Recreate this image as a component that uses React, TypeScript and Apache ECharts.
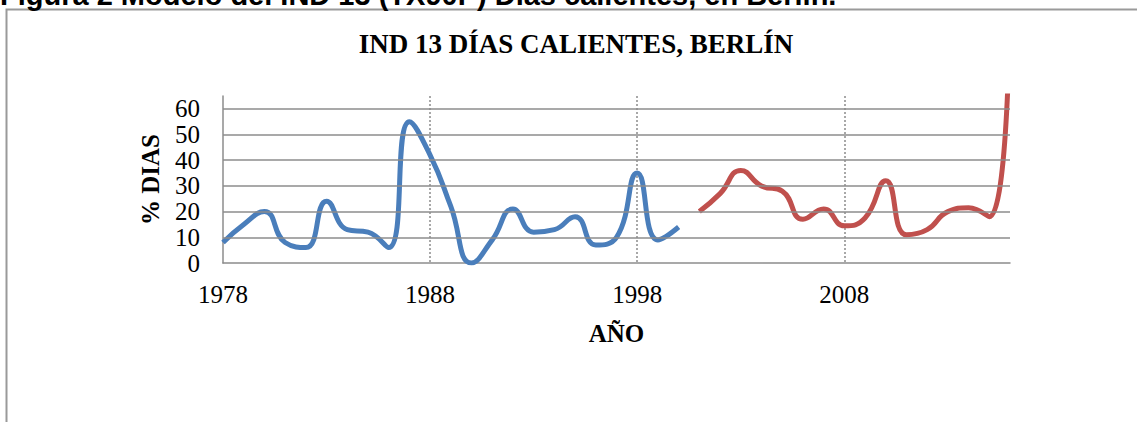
import React, { useEffect, useRef } from "react";
import * as echarts from "echarts";

const years = [
  "1978", "1979", "1980", "1981", "1982", "1983", "1984", "1985", "1986", "1987",
  "1988", "1989", "1990", "1991", "1992", "1993", "1994", "1995", "1996", "1997",
  "1998", "1999", "2000", "2001", "2002", "2003", "2004", "2005", "2006", "2007",
  "2008", "2009", "2010", "2011", "2012", "2013", "2014", "2015", "2016",
];
// observed 1978–2000
const observed = [8, 15, 20, 8, 6, 24, 13, 12, 6, 55, 42, 22, 0, 9, 21, 12, 13, 18, 7, 10, 35, 9, 14];
// model 2001–2016
const model = [20, 27, 36, 30, 28, 17, 21, 14.5, 17.5, 32, 11, 13, 20, 21.5, 18, 100];
const yTicks = [10, 20, 30, 40, 50, 60];

const TITLE = "IND 13 DÍAS CALIENTES, BERLÍN";
const CAPTION = "Figura 2 Modelo del IND 13 (TX90P) Días calientes, en Berlín.";
const SERIF = "'Liberation Serif', 'Times New Roman', serif";

export default function App() {
  const ref = useRef<HTMLDivElement>(null);
  useEffect(() => {
    if (!ref.current) return;
    const chart = echarts.init(ref.current, null, { renderer: "svg" });
    const nBlue = observed.length;
    const blueData = [...observed, ...Array(years.length - nBlue).fill(null)];
    const redData = [...Array(years.length - model.length).fill(null), ...model];
    chart.setOption({
      animation: false,
      backgroundColor: "#ffffff",
      grid: { left: 223, right: 127, top: 96, bottom: 159, containLabel: false, outerBoundsMode: "none" },
      graphic: [
        {
          type: "rect",
          shape: { x: 6.5, y: 9.5, width: 1200, height: 500 },
          style: { fill: "none", stroke: "#9a9a9a", lineWidth: 2 },
          silent: true,
        },
        {
          type: "text",
          x: 0,
          y: 9,
          style: {
            text: CAPTION,
            font: "bold 29px 'Liberation Sans', Arial, sans-serif",
            fill: "#000",
            textAlign: "left",
            textVerticalAlign: "bottom",
          },
        },
        {
          type: "text",
          x: 576,
          y: 44,
          style: {
            text: TITLE,
            font: `bold 27px ${SERIF}`,
            fill: "#000",
            textAlign: "center",
            textVerticalAlign: "middle",
          },
        },
      ],
      xAxis: {
        type: "category",
        data: years,
        boundaryGap: false,
        name: "AÑO",
        nameLocation: "middle",
        nameGap: 58,
        nameTextStyle: { fontFamily: SERIF, fontWeight: "bold", fontSize: 25, color: "#000" },
        axisLine: { show: true, lineStyle: { color: "#8c8c8c", width: 1.5 } },
        axisTick: { show: false },
        axisLabel: {
          interval: (i: number) => i % 10 === 0,
          margin: 19,
          fontFamily: SERIF,
          fontSize: 25,
          color: "#000",
        },
        splitLine: {
          show: true,
          interval: (i: number) => i % 10 === 0 && i > 0,
          lineStyle: { color: "#8c8c8c", width: 1.5, type: [2, 2] },
        },
      },
      yAxis: {
        type: "value",
        min: 0,
        max: 65,
        interval: 10,
        name: "% DIAS",
        nameLocation: "middle",
        nameGap: 60,
        nameRotate: 90,
        nameTextStyle: { fontFamily: SERIF, fontWeight: "bold", fontSize: 25, color: "#000" },
        axisLine: { show: true, lineStyle: { color: "#8c8c8c", width: 1.5 } },
        axisTick: { show: false },
        splitLine: { show: false },
        axisLabel: {
          margin: 23,
          fontFamily: SERIF,
          fontSize: 25,
          color: "#000",
          formatter: (v: number) => (v > 60 ? "" : String(v)),
        },
      },
      series: [
        {
          type: "line",
          data: years.map(() => null),
          z: 1,
          silent: true,
          symbol: "none",
          markLine: {
            silent: true,
            symbol: "none",
            label: { show: false },
            lineStyle: { color: "#8c8c8c", width: 1.5, type: "solid" },
            data: yTicks.map((v) => ({ yAxis: v })),
          },
        },
        {
          type: "line",
          data: blueData,
          smooth: 0.5,
          symbol: "none",
          z: 3,
          lineStyle: { color: "#4a7ebb", width: 5 },
          itemStyle: { color: "#4a7ebb" },
        },
        {
          type: "line",
          data: redData,
          smooth: 0.5,
          symbol: "none",
          z: 3,
          clip: true,
          lineStyle: { color: "#c0504d", width: 5 },
          itemStyle: { color: "#c0504d" },
        },
      ],
    });
    return () => chart.dispose();
  }, []);
  return (
    <div
      ref={ref}
      style={{ position: "absolute", left: 0, top: 0, width: 1137, height: 422 }}
    />
  );
}
